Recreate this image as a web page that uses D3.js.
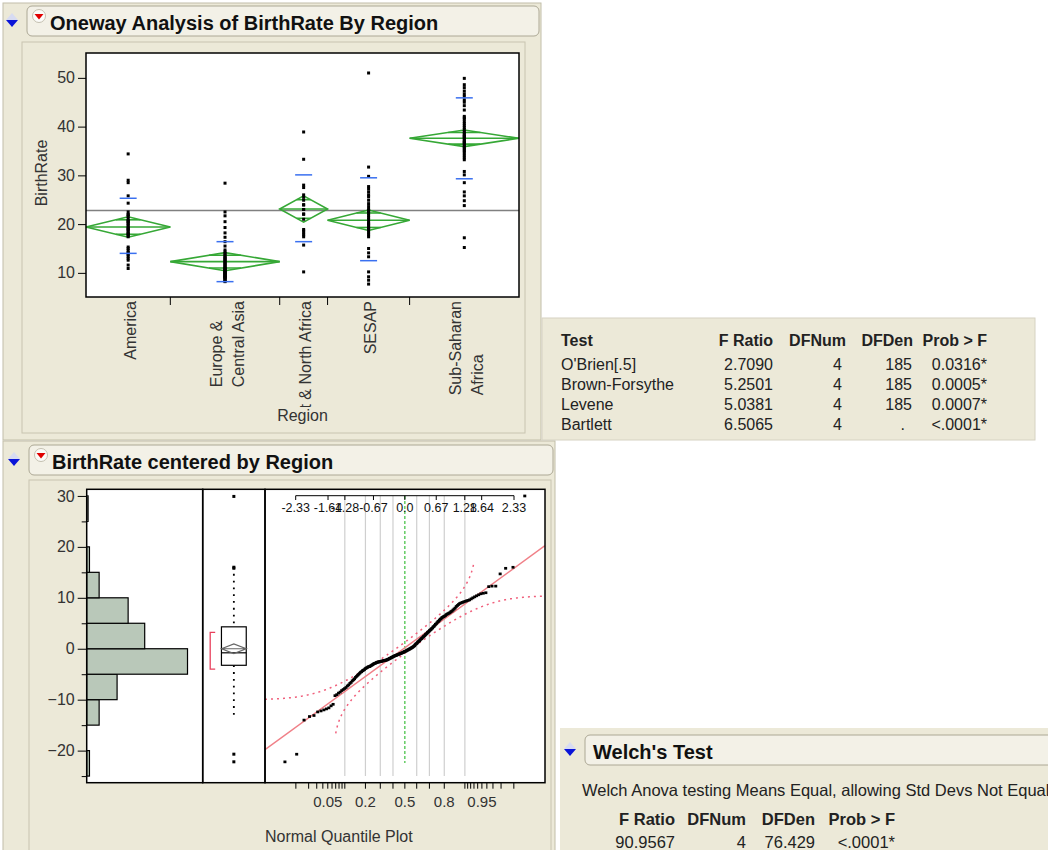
<!DOCTYPE html>
<html>
<head>
<meta charset="utf-8">
<script src="https://cdn.jsdelivr.net/npm/d3@7"></script>
<style>
  body { margin: 0; background: #fff; }
  svg { display: block; font-family: "Liberation Sans", Arial, sans-serif; }
</style>
</head>
<body>
<svg id="chart" width="1048" height="850"></svg>
<script>
// ---- Oneway data ----
const regionLabelLines = [["America"], ["Europe &", "Central Asia"], ["Middle East & North Africa"], ["SESAP"], ["Sub-Saharan", "Africa"]];
const regionCounts = [37, 48, 21, 36, 48];
const rateAmerica = [34.4, 29.0, 28.5, 25.8, 24.3, 22.5, 22.0, 21.9, 21.6, 21.2, 20.8, 20.6, 20.5, 20.2, 20.0, 19.7, 19.4, 19.1, 19.0,
    18.8, 18.5, 18.2, 18.0, 17.9, 17.6, 17.4, 15.3, 15.0, 14.6, 14.2, 14.0, 13.8, 13.4, 13.0, 12.6, 11.6, 10.9];
const rateEurope = [28.4, 22.5, 21.7, 20.5, 19.3, 18.2, 17.3, 16.4, 15.5, 14.7, 14.3, 14.0, 13.7, 13.4, 13.2, 13.0, 12.8, 12.6,
    12.4, 12.2, 12.0, 11.8, 11.6, 11.4, 11.2, 11.0, 10.9, 10.8, 10.6, 10.5, 10.4, 10.2, 10.1, 10.0, 9.9, 9.8, 9.7, 9.5, 9.4,
    9.3, 9.2, 9.1, 9.0, 8.9, 8.7, 8.5, 8.3, 8.2];
const rateMENA = [38.9, 33.3, 28.0, 27.5, 26.0, 25.5, 24.9, 24.0, 23.9, 23.0, 23.0, 22.1, 22.0, 21.0, 18.9, 18.6, 18.2, 17.8, 17.4, 15.7, 10.2];
const rateSESAP = [51.0, 31.7, 29.8, 27.7, 27.2, 26.6, 26.0, 25.6, 24.9, 24.2, 23.6, 23.0, 22.8, 22.6, 22.2, 21.8, 21.4, 21.0,
    20.6, 20.2, 20.0, 19.8, 19.4, 19.2, 19.0, 18.6, 18.2, 17.8, 17.4, 15.0, 14.1, 13.3, 10.2, 9.2, 8.5, 7.7];
const rateSSA = [49.9, 48.6, 48.0, 47.3, 46.7, 46.2, 45.5, 45.0, 44.3, 43.4, 42.1, 41.8, 41.5, 41.0, 40.6, 40.2, 39.8, 39.4,
    39.0, 38.7, 38.4, 38.1, 38.0, 37.8, 37.5, 37.2, 36.9, 36.8, 36.6, 36.3, 36.0, 35.7, 35.4, 35.1, 34.8, 34.4, 34.0, 33.6,
    33.2, 30.8, 30.1, 28.5, 26.6, 25.8, 24.8, 23.8, 17.2, 15.2];
const regionMeans = [19.4, 12.3, 23.1, 20.8, 37.6];
const regionCiHalf = [2.1, 1.85, 2.7, 2.1, 1.7];
const regionSdLow = [14.0, 8.2, 16.4, 12.5, 29.3];
const regionSdHigh = [25.3, 16.4, 30.1, 29.5, 45.9];
const grandMean = 22.8;
const onewayTicks = [10, 20, 30, 40, 50];

// ---- Centered data ----
const histBinStarts = [-25, -20, -15, -10, -5, 0, 5, 10, 15, 20, 25];
const histCounts = [2, 0, 9, 22, 73, 42, 30, 9, 2, 0, 1];
const centeredTicks = [-20, -10, 0, 10, 20, 30];
const centeredMinorTicks = [-25, -15, -5, 5, 15, 25];
const boxQuartiles = [-3.25, -0.8, 4.3];
const boxWhiskers = [-13.0, 14.7];
const boxOutliers = [29.9, 16.0, 15.8, -20.7, -22.2];
const boxMeanCi = [-0.96, 0, 0.96];
const shortestHalf = [-4.0, 3.2];
const sortedResiduals = [-22.2, -20.7, -14.0, -13.3, -13.1, -12.4, -12.2, -12.0, -11.8, -11.6, -11.2, -10.9,
    -9.2, -9.0, -8.7, -8.5, -8.2, -8.0, -7.8, -7.6, -7.3, -7.1, -6.8, -6.6, -6.3, -6.1, -5.9, -5.6, -5.4, -5.2, -5.0,
    -4.8, -4.6, -4.5, -4.3, -4.2, -4.1, -3.9, -3.8, -3.7, -3.6, -3.5, -3.5, -3.4,
    -3.3, -3.2, -3.1, -3.0, -2.9, -2.85, -2.8, -2.7,
    -2.65, -2.6, -2.6, -2.55, -2.5, -2.5, -2.45, -2.4, -2.4, -2.35, -2.3, -2.3, -2.25, -2.2, -2.2,
    -2.1, -2.05, -2.0, -1.9, -1.85, -1.8, -1.7, -1.65, -1.6, -1.5, -1.45, -1.4, -1.35, -1.3, -1.25, -1.2,
    -1.15, -1.1, -1.05, -1.0, -0.95, -0.9, -0.85, -0.8, -0.75, -0.7, -0.6, -0.55,
    -0.5, -0.45, -0.4, -0.3, -0.25, -0.2, -0.1, -0.05, 0.0, 0.1, 0.15, 0.25, 0.3, 0.4,
    0.5, 0.6, 0.75, 0.9, 1.0, 1.1, 1.25, 1.4, 1.5, 1.6, 1.75, 1.9, 2.0, 2.1, 2.25, 2.4,
    2.5, 2.6, 2.8, 2.9, 3.0, 3.2, 3.3, 3.4, 3.6, 3.7, 3.8, 4.0, 4.1, 4.3,
    4.4, 4.6, 4.8, 4.9, 5.1, 5.3, 5.4, 5.6, 5.8, 5.9, 6.1, 6.2, 6.3,
    6.4, 6.5, 6.7, 6.8, 6.9, 7.0, 7.1, 7.3, 7.4, 7.6,
    7.8, 8.0, 8.3, 8.5, 8.7, 8.9,
    9.0, 9.1, 9.2, 9.3, 9.4, 9.5, 9.6,
    9.8, 10.0, 10.2, 10.4, 10.6,
    10.8, 10.9, 11.0, 12.2, 12.3, 12.3, 14.7, 15.8, 16.0, 30.0];
const fitMean = 0.2;
const fitSd = 6.7;
const bandWidth = 0.064; // Lilliefors half width on the probability scale
const quantileTicks = [-2.33, -1.64, -1.28, -0.67, 0, 0.67, 1.28, 1.64, 2.33];
const quantileTickLabels = ["-2.33", "-1.64", "-1.28", "-0.67", "0.0", "0.67", "1.28", "1.64", "2.33"];
const probTicks = [0.01, 0.02, 0.03, 0.04, 0.05, 0.06, 0.07, 0.08, 0.09, 0.1, 0.2, 0.3, 0.4, 0.5, 0.6, 0.7, 0.8,
    0.9, 0.91, 0.92, 0.93, 0.94, 0.95, 0.96, 0.97, 0.98, 0.99];
const probLabels = [0.05, 0.2, 0.5, 0.8, 0.95];
const probGrid = [0.1, 0.2, 0.3, 0.4, 0.5, 0.6, 0.7, 0.8, 0.9];

// ---- Tables ----
const testColumns = ["Test", "F Ratio", "DFNum", "DFDen", "Prob > F"];
const testNames = ["O'Brien[.5]", "Brown-Forsythe", "Levene", "Bartlett"];
const testFRatios = ["2.7090", "5.2501", "5.0381", "6.5065"];
const testDfNums = ["4", "4", "4", "4"];
const testDfDens = ["185", "185", "185", "."];
const testProbs = ["0.0316*", "0.0005*", "0.0007*", "<.0001*"];
const welchNote = "Welch Anova testing Means Equal, allowing Std Devs Not Equal";
const welchColumns = ["F Ratio", "DFNum", "DFDen", "Prob > F"];
const welchValues = ["90.9567", "4", "76.429", "<.0001*"];

const svg = d3.select('#chart');
const BEIGE = '#ece9d8';

// inverse normal cdf (Acklam)
function qnorm(p) {
    const a = [-39.69683028665376, 220.9460984245205, -275.9285104469687, 138.3577518672690, -30.66479806614716, 2.506628277459239];
    const b = [-54.47609879822406, 161.5858368580409, -155.6989798598866, 66.80131188771972, -13.28068155288572];
    const c = [-0.007784894002430293, -0.3223964580411365, -2.400758277161838, -2.549732539343734, 4.374664141464968, 2.938163982698783];
    const d = [0.007784695709041462, 0.3224671290700398, 2.445134137142996, 3.754408661907416];
    const plow = 0.02425;
    let q, r;
    if (p < plow) {
        q = Math.sqrt(-2 * Math.log(p));
        return (((((c[0] * q + c[1]) * q + c[2]) * q + c[3]) * q + c[4]) * q + c[5]) / ((((d[0] * q + d[1]) * q + d[2]) * q + d[3]) * q + 1);
    }
    if (p > 1 - plow) {
        q = Math.sqrt(-2 * Math.log(1 - p));
        return -(((((c[0] * q + c[1]) * q + c[2]) * q + c[3]) * q + c[4]) * q + c[5]) / ((((d[0] * q + d[1]) * q + d[2]) * q + d[3]) * q + 1);
    }
    q = p - 0.5; r = q * q;
    return (((((a[0] * r + a[1]) * r + a[2]) * r + a[3]) * r + a[4]) * r + a[5]) * q / (((((b[0] * r + b[1]) * r + b[2]) * r + b[3]) * r + b[4]) * r + 1);
}

function pnorm(z) {
    const t = 1 / (1 + 0.2316419 * Math.abs(z));
    const dens = 0.3989423 * Math.exp(-z * z / 2);
    const pr = dens * t * (0.3193815 + t * (-0.3565638 + t * (1.781478 + t * (-1.821256 + t * 1.330274))));
    return z > 0 ? 1 - pr : pr;
}

// Outline header with the disclosure icons
function drawHeader(x, y, w, title, withMenu) {
    const g = svg.append('g');
    g.append('rect').attr('x', x).attr('y', y).attr('width', w).attr('height', 30).attr('rx', 5)
        .attr('fill', '#f3f1e7').attr('stroke', '#aca895');
    const ix = x - 15, iy = y + 14;
    g.append('path').attr('d', `M${ix - 6},${iy} L${ix},${iy - 7} L${ix + 6},${iy} Z`).attr('fill', '#d7dbf2');
    g.append('path').attr('d', `M${ix - 6},${iy} L${ix + 6},${iy} L${ix},${iy + 7} Z`).attr('fill', '#0a14d8');
    let tx = x + 8;
    if (withMenu) {
        const mx = x + 12, my = y + 10;
        g.append('circle').attr('cx', mx).attr('cy', my).attr('r', 6.5).attr('fill', '#fbfbf8').attr('stroke', '#c4c0b0');
        g.append('path').attr('d', `M${mx - 4.5},${my - 2} L${mx + 4.5},${my - 2} L${mx},${my + 3.5} Z`).attr('fill', '#e00000');
        tx = x + 23;
    }
    g.append('text').attr('x', tx).attr('y', y + 24).attr('font-size', 20).attr('font-weight', 'bold')
        .attr('fill', '#111').text(title);
}

function drawPanels() {
    svg.append('rect').attr('x', 3).attr('y', 3).attr('width', 538).attr('height', 437).attr('fill', BEIGE).attr('stroke', '#c2bea9');
    svg.append('rect').attr('x', 22).attr('y', 42).attr('width', 503).attr('height', 391).attr('fill', 'none').attr('stroke', '#c8c4b0');
    svg.append('rect').attr('x', 542).attr('y', 318).attr('width', 493).attr('height', 122).attr('fill', BEIGE).attr('stroke', '#d6d2c2');
    svg.append('rect').attr('x', 3).attr('y', 441).attr('width', 552).attr('height', 412).attr('fill', BEIGE).attr('stroke', '#c2bea9');
    svg.append('rect').attr('x', 29).attr('y', 480).attr('width', 522).attr('height', 375).attr('fill', 'none').attr('stroke', '#c8c4b0');
    svg.append('rect').attr('x', 560).attr('y', 728).attr('width', 492).attr('height', 125).attr('fill', BEIGE);
    drawHeader(27, 6, 512, 'Oneway Analysis of BirthRate By Region', true);
    drawHeader(29, 445, 524, 'BirthRate centered by Region', true);
    drawHeader(585, 735, 470, "Welch's Test", false);
}

// Oneway means-diamond plot
function drawOneway() {
    const box = { left: 86, right: 519, top: 53, bottom: 297 };
    const y = d3.scaleLinear().domain([5.05, 55.1]).range([box.bottom, box.top]);
    const x = d3.scaleLinear().domain([0, d3.sum(regionCounts)]).range([box.left, box.right]);
    const rates = [rateAmerica, rateEurope, rateMENA, rateSESAP, rateSSA];
    const starts = d3.cumsum([0].concat(regionCounts));

    svg.append('rect').attr('x', box.left).attr('y', box.top).attr('width', box.right - box.left)
        .attr('height', box.bottom - box.top).attr('fill', '#fff');

    svg.append('line').attr('x1', box.left).attr('x2', box.right).attr('y1', y(grandMean)).attr('y2', y(grandMean))
        .attr('stroke', '#808080').attr('stroke-width', 1.5);

    const green = '#36a836';
    regionCounts.forEach((n, i) => {
        const x0 = x(starts[i]), x1 = x(starts[i] + n), cx = (x0 + x1) / 2;
        const m = regionMeans[i], ci = regionCiHalf[i];
        const g = svg.append('g').attr('stroke', green).attr('stroke-width', 1.6).attr('fill', 'none');
        g.append('path').attr('d', `M${x0},${y(m)} L${cx},${y(m + ci)} L${x1},${y(m)} L${cx},${y(m - ci)} Z`);
        g.append('line').attr('x1', x0).attr('x2', x1).attr('y1', y(m)).attr('y2', y(m));
        const half = (x1 - x0) / 2 * (1 - Math.SQRT1_2);
        [m + ci * Math.SQRT1_2, m - ci * Math.SQRT1_2].forEach(v => {
            g.append('line').attr('x1', cx - half).attr('x2', cx + half).attr('y1', y(v)).attr('y2', y(v));
        });

        svg.append('g').selectAll('rect').data(rates[i]).join('rect')
            .attr('x', cx - 1.5).attr('y', d => y(d) - 1.5).attr('width', 3).attr('height', 3).attr('fill', '#000');

        [regionSdLow[i], regionSdHigh[i]].forEach(v => {
            svg.append('line').attr('x1', cx - 8.5).attr('x2', cx + 8.5).attr('y1', y(v)).attr('y2', y(v))
                .attr('stroke', '#3a70f0').attr('stroke-width', 1.5);
        });
    });

    svg.append('rect').attr('x', box.left).attr('y', box.top).attr('width', box.right - box.left)
        .attr('height', box.bottom - box.top).attr('fill', 'none').attr('stroke', '#000').attr('stroke-width', 1.5);

    const yAxis = svg.append('g').attr('transform', `translate(${box.left},0)`)
        .call(d3.axisLeft(y).tickValues(onewayTicks).tickSize(8).tickSizeOuter(0));
    yAxis.select('.domain').remove();
    yAxis.attr('font-size', 16).attr('font-family', null);
    yAxis.selectAll('text').attr('fill', '#333');

    svg.append('text').attr('transform', 'translate(47,173) rotate(-90)').attr('text-anchor', 'middle')
        .attr('font-size', 16).attr('fill', '#333').text('BirthRate');

    // category separators
    starts.slice(1, -1).forEach(s => {
        svg.append('line').attr('x1', x(s)).attr('x2', x(s)).attr('y1', box.bottom).attr('y2', box.bottom + 8)
            .attr('stroke', '#000');
    });

    svg.append('clipPath').attr('id', 'catClip').append('rect')
        .attr('x', box.left).attr('y', box.bottom).attr('width', box.right - box.left).attr('height', 110);
    const labels = svg.append('g').attr('clip-path', 'url(#catClip)').attr('font-size', 16).attr('fill', '#333');
    regionLabelLines.forEach((lines, i) => {
        const cx = (x(starts[i]) + x(starts[i + 1])) / 2 + 2;
        const texts = lines.map((line, k) => {
            const lx = cx + (k - (lines.length - 1) / 2) * 22;
            return labels.append('text').attr('dy', '0.35em').attr('data-x', lx).text(line);
        });
        const maxLen = d3.max(texts, t => t.node().getComputedTextLength());
        texts.forEach(t => {
            const lx = +t.attr('data-x'), ly = box.bottom + 4 + maxLen;
            t.attr('x', lx).attr('y', ly).attr('transform', `rotate(-90,${lx},${ly})`);
        });
    });

    svg.append('text').attr('x', (box.left + box.right) / 2).attr('y', 421).attr('text-anchor', 'middle')
        .attr('font-size', 16).attr('fill', '#333').text('Region');
}

// Histogram, box plot and normal quantile plot of the centered values
function drawCentered() {
    const top = 489.3, bottom = 782.7;
    const hist = { left: 86.7, right: 202.7 };
    const boxp = { left: 202.7, right: 265 };
    const qp = { left: 265, right: 545 };
    const y = d3.scaleLinear().domain([-26.3, 31.3]).range([bottom, top]);

    svg.append('rect').attr('x', hist.left).attr('y', top).attr('width', qp.right - hist.left)
        .attr('height', bottom - top).attr('fill', '#fff');

    // histogram
    const xh = d3.scaleLinear().domain([0, 84]).range([hist.left, hist.right]);
    svg.append('g').selectAll('rect').data(histBinStarts.map((s, i) => ({ s, c: histCounts[i] })).filter(d => d.c > 0))
        .join('rect')
        .attr('x', xh(0)).attr('y', d => y(d.s + 5)).attr('width', d => xh(d.c) - xh(0))
        .attr('height', d => y(d.s) - y(d.s + 5))
        .attr('fill', '#b9c8b9').attr('stroke', '#000').attr('stroke-width', 1.2);

    // box plot
    const bx = (boxp.left + boxp.right) / 2, bw = 12.4;
    svg.append('line').attr('x1', bx).attr('x2', bx).attr('y1', y(boxWhiskers[1])).attr('y2', y(boxQuartiles[2]))
        .attr('stroke', '#000').attr('stroke-width', 1.8).attr('stroke-dasharray', '1.8,5');
    svg.append('line').attr('x1', bx).attr('x2', bx).attr('y1', y(boxQuartiles[0])).attr('y2', y(boxWhiskers[0]))
        .attr('stroke', '#000').attr('stroke-width', 1.8).attr('stroke-dasharray', '1.8,5');
    svg.append('rect').attr('x', bx - bw).attr('y', y(boxQuartiles[2])).attr('width', bw * 2)
        .attr('height', y(boxQuartiles[0]) - y(boxQuartiles[2])).attr('fill', '#fff').attr('stroke', '#000').attr('stroke-width', 1.2);
    svg.append('line').attr('x1', bx - bw).attr('x2', bx + bw).attr('y1', y(boxQuartiles[1])).attr('y2', y(boxQuartiles[1]))
        .attr('stroke', '#000').attr('stroke-width', 1.2);
    svg.append('path')
        .attr('d', `M${bx - bw},${y(boxMeanCi[1])} L${bx},${y(boxMeanCi[2])} L${bx + bw},${y(boxMeanCi[1])} L${bx},${y(boxMeanCi[0])} Z M${bx - bw},${y(boxMeanCi[1])} L${bx + bw},${y(boxMeanCi[1])}`)
        .attr('fill', 'none').attr('stroke', '#666').attr('stroke-width', 1.2);
    svg.append('g').selectAll('rect').data(boxOutliers).join('rect')
        .attr('x', bx - 1.5).attr('y', d => y(d) - 1.5).attr('width', 3).attr('height', 3).attr('fill', '#000');
    const sx = boxp.left + 7.5;
    svg.append('path')
        .attr('d', `M${sx + 5},${y(shortestHalf[1])} H${sx} V${y(shortestHalf[0])} H${sx + 5}`)
        .attr('fill', 'none').attr('stroke', '#e8405c').attr('stroke-width', 1.3);

    // normal quantile plot
    const xq = d3.scaleLinear().domain([-2.33, 2.33]).range([295.7, 514]);
    svg.append('clipPath').attr('id', 'qClip').append('rect')
        .attr('x', qp.left).attr('y', top).attr('width', qp.right - qp.left).attr('height', bottom - top);
    const q = svg.append('g').attr('clip-path', 'url(#qClip)');

    probGrid.forEach(p => {
        const gx = xq(qnorm(p));
        if (p === 0.5) {
            q.append('line').attr('x1', gx).attr('x2', gx).attr('y1', 496).attr('y2', 763)
                .attr('stroke', '#3cbf3c').attr('stroke-width', 1.2).attr('stroke-dasharray', '3,2');
        } else {
            q.append('line').attr('x1', gx).attr('x2', gx).attr('y1', 496).attr('y2', 776)
                .attr('stroke', '#cfcfcf').attr('stroke-width', 1.2);
        }
    });

    const zMin = xq.invert(qp.left), zMax = xq.invert(qp.right);
    q.append('line').attr('x1', qp.left).attr('x2', qp.right)
        .attr('y1', y(fitMean + fitSd * zMin)).attr('y2', y(fitMean + fitSd * zMax))
        .attr('stroke', '#f08088').attr('stroke-width', 1.5);

    const zs = d3.range(zMin, zMax, 0.01);
    const upper = zs.map(z => [z, pnorm(z) + bandWidth]).filter(d => d[1] < 1)
        .map(d => [d[0], fitMean + fitSd * qnorm(d[1])]).filter(d => d[1] <= 17);
    const lower = zs.map(z => [z, pnorm(z) - bandWidth]).filter(d => d[1] > 0)
        .map(d => [d[0], fitMean + fitSd * qnorm(d[1])]).filter(d => d[1] >= -17);
    const band = d3.line().x(d => xq(d[0])).y(d => y(d[1]));
    [upper, lower].forEach(b => {
        q.append('path').datum(b).attr('d', band).attr('fill', 'none')
            .attr('stroke', '#f0607c').attr('stroke-width', 1.5).attr('stroke-dasharray', '2,4');
    });

    const n = sortedResiduals.length;
    q.append('g').selectAll('rect').data(sortedResiduals).join('rect')
        .attr('x', (d, i) => xq(qnorm((i + 1) / (n + 1))) - 1.5).attr('y', d => y(d) - 1.3)
        .attr('width', 3).attr('height', 2.7).attr('fill', '#000');

    // top normal quantile axis
    svg.append('line').attr('x1', xq(-2.33)).attr('x2', xq(2.33)).attr('y1', 495.7).attr('y2', 495.7).attr('stroke', '#000');
    quantileTicks.forEach((t, i) => {
        svg.append('line').attr('x1', xq(t)).attr('x2', xq(t)).attr('y1', 495.7).attr('y2', 500).attr('stroke', '#000');
        svg.append('text').attr('x', xq(t)).attr('y', 512).attr('text-anchor', 'middle').attr('font-size', 12.5)
            .attr('fill', '#111').text(quantileTickLabels[i]);
    });

    // frames
    [hist, boxp, qp].forEach(f => {
        svg.append('rect').attr('x', f.left).attr('y', top).attr('width', f.right - f.left).attr('height', bottom - top)
            .attr('fill', 'none').attr('stroke', '#000').attr('stroke-width', 1.5);
    });

    // left axis
    const yAxis = svg.append('g').attr('transform', `translate(${hist.left},0)`)
        .call(d3.axisLeft(y).tickValues(centeredTicks).tickSize(9).tickSizeOuter(0));
    yAxis.select('.domain').remove();
    yAxis.attr('font-size', 16).attr('font-family', null);
    yAxis.selectAll('text').attr('fill', '#333');
    const yMinor = svg.append('g').attr('transform', `translate(${hist.left},0)`)
        .call(d3.axisLeft(y).tickValues(centeredMinorTicks).tickSize(5).tickFormat(''));
    yMinor.select('.domain').remove();

    // probability axis
    const probAxis = svg.append('g').attr('transform', `translate(0,${bottom})`);
    probTicks.forEach(p => {
        probAxis.append('line').attr('x1', xq(qnorm(p))).attr('x2', xq(qnorm(p))).attr('y1', 0).attr('y2', 6).attr('stroke', '#000');
    });
    probLabels.forEach(p => {
        probAxis.append('text').attr('x', xq(qnorm(p))).attr('y', 24).attr('text-anchor', 'middle')
            .attr('font-size', 15).attr('fill', '#333').text(p);
    });

    svg.append('text').attr('x', 265).attr('y', 842).attr('font-size', 16).attr('fill', '#333').text('Normal Quantile Plot');
}

// Report tables
function drawTables() {
    const t = svg.append('g').attr('font-size', 16).attr('fill', '#222');
    const colRight = [null, 773, 846, 913, 987];
    t.append('text').attr('x', 561).attr('y', 346).attr('font-weight', 'bold').text(testColumns[0]);
    testColumns.slice(1).forEach((c, i) => {
        t.append('text').attr('x', colRight[i + 1]).attr('y', 346).attr('text-anchor', 'end').attr('font-weight', 'bold').text(c);
    });
    testNames.forEach((name, i) => {
        const ry = 370 + i * 20;
        t.append('text').attr('x', 561).attr('y', ry).text(name);
        t.append('text').attr('x', 773).attr('y', ry).attr('text-anchor', 'end').text(testFRatios[i]);
        t.append('text').attr('x', 842).attr('y', ry).attr('text-anchor', 'end').text(testDfNums[i]);
        t.append('text').attr('x', testDfDens[i] === '.' ? 905 : 912).attr('y', ry).attr('text-anchor', 'end').text(testDfDens[i]);
        t.append('text').attr('x', 987).attr('y', ry).attr('text-anchor', 'end').text(testProbs[i]);
    });

    const w = svg.append('g').attr('font-size', 16.5).attr('fill', '#222');
    w.append('text').attr('x', 582).attr('y', 796).text(welchNote);
    const welchRight = [675, 746, 815, 895];
    welchColumns.forEach((c, i) => {
        w.append('text').attr('x', welchRight[i]).attr('y', 825).attr('text-anchor', 'end').attr('font-weight', 'bold').text(c);
        w.append('text').attr('x', welchRight[i]).attr('y', 848).attr('text-anchor', 'end').text(welchValues[i]);
    });
}

drawPanels();
drawOneway();
drawCentered();
drawTables();
</script>
</body>
</html>
